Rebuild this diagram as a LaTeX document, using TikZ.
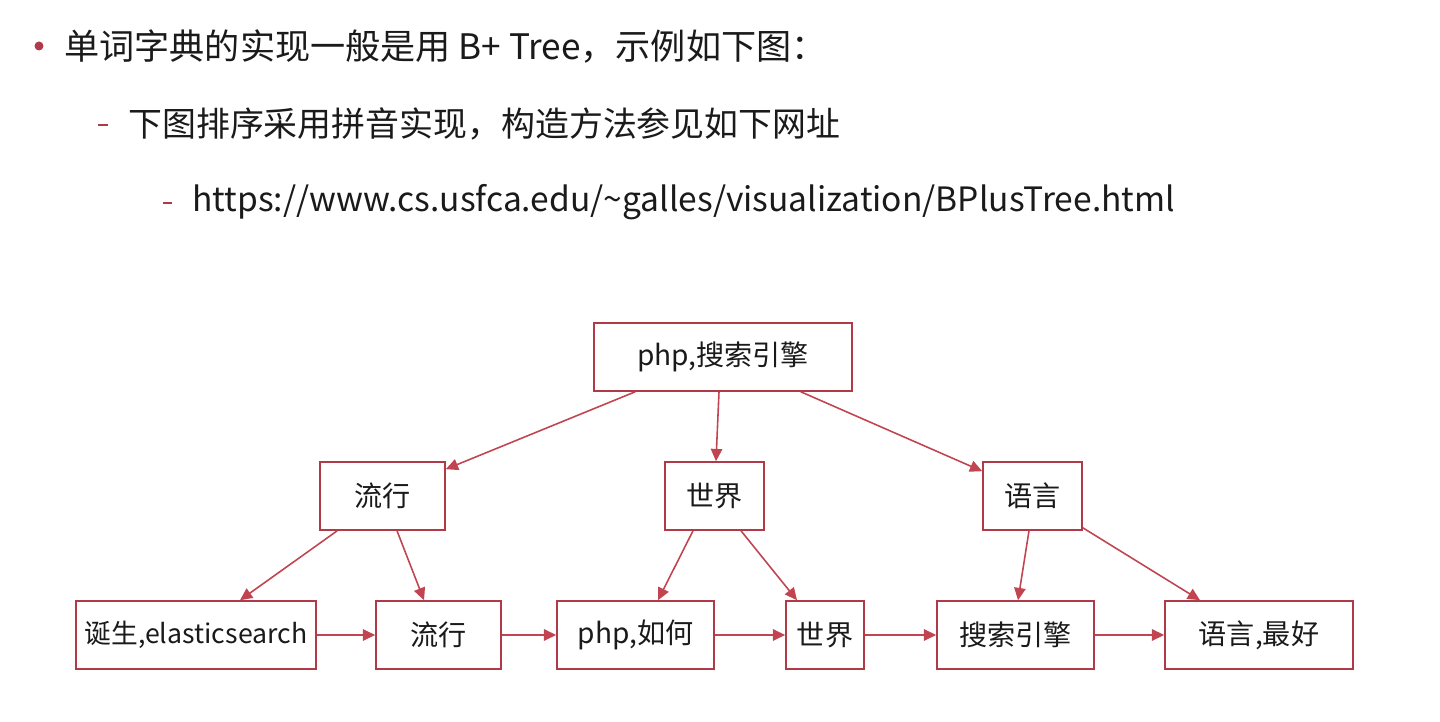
\documentclass[tikz,border=0pt]{standalone}
\usepackage{fontspec}
\setmainfont{Noto Sans CJK SC}
\usetikzlibrary{arrows.meta}
\definecolor{boxred}{HTML}{B03A48}
\definecolor{linkred}{HTML}{C04550}
\definecolor{textgray}{HTML}{1A1A1A}
\begin{document}
\begin{tikzpicture}[x=0.02cm, y=-0.02cm,
  box/.style={draw=boxred, line width=0.9pt, minimum height=1.36cm, inner sep=0pt,
    text=textgray, font=\fontsize{16}{19}\selectfont},
  link/.style={-{Triangle[length=7pt,width=6.5pt]}, draw=linkred, fill=linkred, line width=0.9pt},
  item/.style={anchor=west, inner sep=0pt, text=textgray}]
\useasboundingbox (0,0) rectangle (1440,722);
% text above the tree
\fill[boxred] (39,46) circle (0.09cm);
\node[item, font=\fontsize{20}{24}\selectfont] (T1) at (64,47) {单词字典的实现一般是用 B+ Tree，示例如下图：};
\draw[boxred, line width=1pt] (98,125) -- (108,125);
\node[item, font=\fontsize{19.3}{23}\selectfont] (T2) at (128,124) {下图排序采用拼音实现，构造方法参见如下网址};
\draw[boxred, line width=1pt] (163,203) -- (172,203);
\node[item, font=\fontsize{19.1}{23}\selectfont] (T3) at (192,202) {https://www.cs.usfca.edu/\string~galles/visualization/BPlusTree.html};
% tree
\node[box, minimum width=5.16cm] (N1) at (723,357) {php,搜索引擎};
\node[box, minimum width=2.5cm] (N2) at (382.5,496) {流行};
\node[box, minimum width=1.98cm] (N3) at (714.5,496) {世界};
\node[box, minimum width=1.98cm] (N4) at (1032.5,496) {语言};
\node[box, minimum width=4.8cm, font=\fontsize{15.2}{18}\selectfont] (L1) at (196,635) {诞生,elasticsearch};
\node[box, minimum width=2.5cm] (L2) at (438.5,635) {流行};
\node[box, minimum width=3.14cm] (L3) at (635.5,635) {php,如何};
\node[box, minimum width=1.56cm] (L4) at (825,635) {世界};
\node[box, minimum width=3.14cm] (L5) at (1015.5,635) {搜索引擎};
\node[box, minimum width=3.76cm] (L6) at (1259,635) {语言,最好};
\draw[link] ([xshift=0.84cm]N1.south west) -- ([yshift=-0.16cm]N2.north east);
\draw[link] ([xshift=-0.08cm]N1.south) -- ([xshift=0.03cm]N3.north);
\draw[link] ([xshift=-1.04cm]N1.south east) -- ([yshift=-0.2cm]N4.north west);
\draw[link] ([xshift=0.36cm]N2.south west) -- ([xshift=0.88cm]L1.north);
\draw[link] ([xshift=0.29cm]N2.south) -- ([xshift=-0.29cm]L2.north);
\draw[link] ([xshift=-0.43cm]N3.south) -- ([xshift=0.45cm]L3.north);
\draw[link] ([xshift=0.53cm]N3.south) -- ([xshift=-0.56cm]L4.north);
\draw[link] ([xshift=-0.07cm]N4.south) -- ([xshift=0.05cm]L5.north);
\draw[link] ([yshift=0.06cm]N4.south east) -- ([xshift=-1.18cm]L6.north);
\draw[link] (L1) -- (L2);
\draw[link] (L2) -- (L3);
\draw[link] (L3) -- (L4);
\draw[link] (L4) -- (L5);
\draw[link] (L5) -- (L6);
\end{tikzpicture}
\end{document}
